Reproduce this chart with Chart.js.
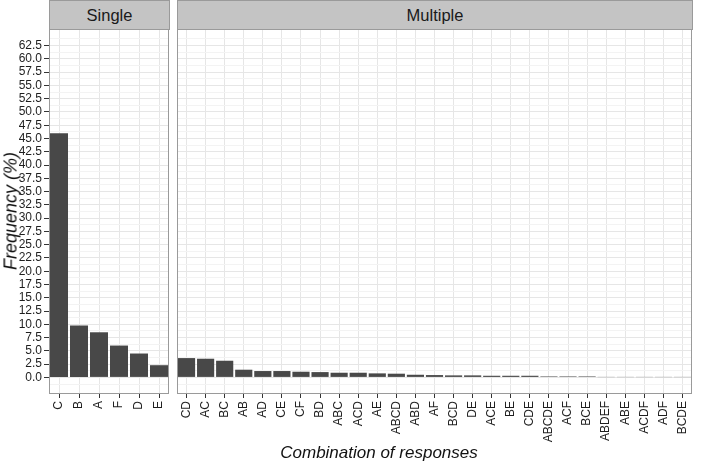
<!DOCTYPE html>
<html>
<head>
<meta charset="utf-8">
<script src="https://cdn.jsdelivr.net/npm/chart.js@4"></script>
<style>
  body { margin: 0; background: #fff; font-family: "Liberation Sans", Arial, sans-serif; }
  #wrap { position: relative; width: 708px; height: 464px; overflow: hidden; }
  canvas { position: absolute; }
  .strip { position: absolute; top: 0; height: 30px; background: #c4c4c4; border: 1px solid #9a9a9a;
           box-sizing: border-box; text-align: center; font-size: 16.5px; line-height: 28px; color: #1a1a1a; }
  .title { position: absolute; font-style: italic; font-size: 17px; line-height: 17px; color: #111; white-space: nowrap; }
</style>
</head>
<body>
<div id="wrap">
  <div class="strip" style="left:49px;width:121px;">Single</div>
  <div class="strip" style="left:177px;width:516px;">Multiple</div>
  <canvas id="single" width="172" height="435" style="left:0;top:29px;"></canvas>
  <canvas id="multiple" width="536" height="435" style="left:172px;top:29px;"></canvas>
  <div class="title" style="left:11px;top:211px;font-size:18px;transform:translate(-50%,-50%) rotate(-90deg);">Frequency (%)</div>
  <div class="title" style="left:379px;top:444px;transform:translateX(-50%);">Combination of responses</div>
</div>
<script>
// single answers
const singleLabels = ["C", "B", "A", "F", "D", "E"];
const singleValues = [46.0, 9.8, 8.5, 6.0, 4.5, 2.3];

// combinations of answers
const multipleLabels = ["CD", "AC", "BC", "AB", "AD", "CE", "CF", "BD", "ABC", "ACD", "AE", "ABCD", "ABD", "AF",
  "BCD", "DE", "ACE", "BE", "CDE", "ABCDE", "ACF", "BCE", "ABDEF", "ABE", "ACDF", "ADF", "BCDE"];
const multipleValues = [3.64, 3.52, 3.14, 1.45, 1.2, 1.2, 1.07, 1.0, 0.88, 0.88, 0.76, 0.7, 0.5, 0.44,
  0.38, 0.38, 0.31, 0.31, 0.31, 0.19, 0.19, 0.19, 0.06, 0.06, 0.06, 0.06, 0.06];

const yTicks = [0, 2.5, 5, 7.5, 10, 12.5, 15, 17.5, 20, 22.5, 25, 27.5, 30, 32.5, 35, 37.5, 40, 42.5,
  45, 47.5, 50, 52.5, 55, 57.5, 60, 62.5];

const barColor = "#484848";
const majorGrid = "#e6e6e6";
const minorGrid = "#f3f3f3";
const textColor = "#1e1e1e";

// major lines on the ticks, minor lines half way between (and one past each end)
const gridValues = [yTicks[0] - 1.25];
yTicks.forEach(v => { gridValues.push(v, v + 1.25); });

const panelBorder = {
  id: "panelBorder",
  afterDatasetsDraw(chart) {
    const a = chart.chartArea, ctx = chart.ctx;
    ctx.save();
    ctx.strokeStyle = "#9a9a9a";
    ctx.lineWidth = 1;
    ctx.strokeRect(Math.round(a.left) + 0.5, Math.round(a.top) + 0.5,
      Math.round(a.right - a.left) - 1, Math.round(a.bottom - a.top) - 1);
    ctx.restore();
  }
};

function noPadding(s) {
  s.paddingLeft = 0; s.paddingRight = 0; s.paddingTop = 0; s.paddingBottom = 0;
}

function yScale(showLabels) {
  return {
    min: -3.125,
    max: 65.625,
    afterBuildTicks: s => { s.ticks = gridValues.map(v => ({ value: v })); },
    afterFit: s => { s.width = showLabels ? 49 : 0; noPadding(s); },
    ticks: {
      display: showLabels,
      autoSkip: false,
      padding: 2,
      color: textColor,
      font: { size: 12, family: "Liberation Sans" },
      callback: v => yTicks.includes(v) ? v.toFixed(1) : ""
    },
    grid: {
      color: c => yTicks.includes(c.tick.value) ? majorGrid : minorGrid,
      tickColor: c => yTicks.includes(c.tick.value) ? "#333" : "rgba(0,0,0,0)",
      tickLength: 5,
      drawTicks: showLabels
    },
    border: { display: false }
  };
}

function xScale() {
  return {
    afterFit: s => { s.height = 70; noPadding(s); },
    grid: { offset: false, color: majorGrid, tickColor: "#333", tickLength: 4 },
    ticks: {
      autoSkip: false,
      minRotation: 90,
      maxRotation: 90,
      padding: 3,
      color: textColor,
      font: { size: 12, family: "Liberation Sans" }
    },
    border: { display: false }
  };
}

function makeChart(id, labels, values, showY, padding) {
  return new Chart(document.getElementById(id), {
    type: "bar",
    data: {
      labels: labels,
      datasets: [{
        data: values,
        backgroundColor: barColor,
        borderWidth: 0,
        barPercentage: 0.9,
        categoryPercentage: 1.0
      }]
    },
    options: {
      responsive: false,
      animation: false,
      layout: { padding: padding, autoPadding: false },
      plugins: { legend: { display: false }, tooltip: { enabled: false } },
      scales: { x: xScale(), y: yScale(showY) }
    },
    plugins: [panelBorder]
  });
}

makeChart("single", singleLabels, singleValues, true, { left: 0, right: 3, top: 0, bottom: 0 });
makeChart("multiple", multipleLabels, multipleValues, false, { left: 5, right: 16, top: 0, bottom: 0 });
</script>
</body>
</html>
